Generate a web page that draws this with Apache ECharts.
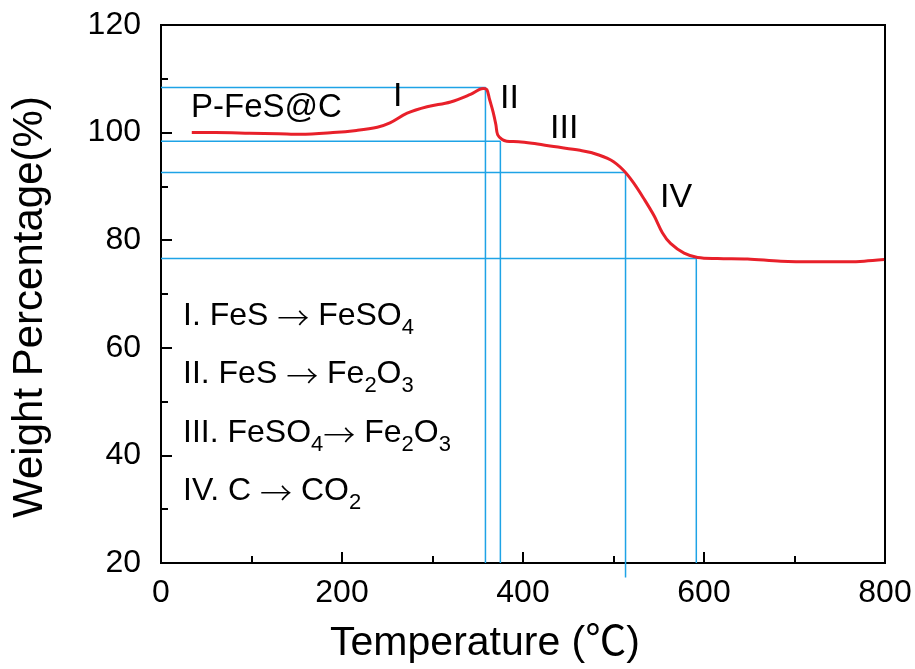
<!DOCTYPE html>
<html>
<head>
<meta charset="utf-8">
<script src="https://cdn.jsdelivr.net/npm/echarts@6/dist/echarts.min.js"></script>
<style>
html,body{margin:0;padding:0;background:#fff;}
#chart{width:915px;height:669px;}
</style>
</head>
<body>
<div id="chart"></div>
<script>
// TGA curve of P-FeS@C
var temps = [34, 60, 98, 130, 154, 190, 216, 239, 253, 272, 294, 320, 342, 356, 360, 363, 367, 370, 372, 377, 382, 395, 410, 434, 463, 475, 497, 511, 522, 534, 545, 554, 563, 578, 593, 615, 648, 685, 722, 760, 777, 799];
var weights = [100.0, 100.0, 99.9, 99.8, 99.7, 100.0, 100.4, 101.0, 101.8, 103.6, 104.8, 105.7, 107.1, 108.2, 108.0, 106.2, 103.8, 101.5, 99.6, 98.7, 98.4, 98.3, 98.0, 97.4, 96.7, 96.3, 94.9, 93.0, 90.7, 87.6, 84.5, 81.4, 79.4, 77.6, 76.8, 76.6, 76.5, 76.1, 76.0, 76.0, 76.1, 76.4];

// guide lines (stage boundaries)
var guideTemps = [358.5, 375, 513.3, 591.5];
var guideWeights = [108.4, 98.4, 92.6, 76.6];
var guideBottoms = [20, 20, 17.3, 20];

// tick settings
var xTicks = {min: 0, max: 800, interval: 200};
var yTicks = {min: 20, max: 120, interval: 20};

var stageLabels = ['I', 'II', 'III', 'IV'];
var sampleName = 'P-FeS@C';
var xTitle = 'Temperature (\u2103)';
var yTitle = 'Weight Percentage(%)';

var FONT = "'Liberation Sans', Arial, 'Noto Sans CJK SC', sans-serif";
var ARROW_FONT = "'Noto Sans CJK SC', 'DejaVu Sans', sans-serif";

var chart = echarts.init(document.getElementById('chart'), null, {renderer: 'canvas'});

var guideSeries = guideTemps.map(function (t, i) {
  return {
    type: 'line',
    data: [[0, guideWeights[i]], [t, guideWeights[i]], [t, guideBottoms[i]]],
    symbol: 'none',
    clip: false,
    silent: true,
    z: 1,
    lineStyle: {color: '#1ea3e6', width: 1.5},
    animation: false
  };
});

var rich = {
  m: {fontSize: 32, fontFamily: FONT, color: '#000', verticalAlign: 'bottom', padding: [0, 0, 7, 0]},
  a: {fontSize: 32, fontFamily: ARROW_FONT, fontWeight: 300, color: '#000', verticalAlign: 'bottom', padding: [0, 0, 5, 0]},
  s: {fontSize: 22, fontFamily: FONT, color: '#000', verticalAlign: 'bottom'}
};

function legendText(y, str) {
  return {
    type: 'text', left: 183, top: y, z: 10,
    style: {text: str, rich: rich, fill: '#000'}
  };
}

function plainText(x, y, str, size) {
  return {
    type: 'text', left: x, top: y, z: 10,
    style: {text: str, font: size + 'px ' + FONT, fill: '#000'}
  };
}

var option = {
  animation: false,
  backgroundColor: '#fff',
  grid: {left: 161, top: 25, width: 724, height: 538, show: true, borderColor: '#000', borderWidth: 2, backgroundColor: 'transparent'},
  xAxis: {
    type: 'value', min: xTicks.min, max: xTicks.max, interval: xTicks.interval,
    name: xTitle, nameLocation: 'middle', nameGap: 60,
    nameTextStyle: {fontSize: 41, fontFamily: FONT, color: '#000', padding: [0, 76, 0, 0]},
    axisLine: {show: true, onZero: false, lineStyle: {color: '#000', width: 2}},
    axisTick: {show: true, inside: true, length: 11, lineStyle: {color: '#000', width: 2}},
    minorTick: {show: true, splitNumber: 2, length: 7, lineStyle: {color: '#000', width: 2}},
    axisLabel: {fontSize: 32, fontFamily: FONT, color: '#000', margin: 14},
    splitLine: {show: false}
  },
  yAxis: {
    type: 'value', min: yTicks.min, max: yTicks.max, interval: yTicks.interval,
    name: yTitle, nameLocation: 'middle', nameGap: 110, nameRotate: 90,
    nameTextStyle: {fontSize: 42, fontFamily: FONT, color: '#000', padding: [0, 26, 0, 0]},
    axisLine: {show: true, onZero: false, lineStyle: {color: '#000', width: 2}},
    axisTick: {show: true, inside: true, length: 11, lineStyle: {color: '#000', width: 2}},
    minorTick: {show: true, splitNumber: 2, length: 7, lineStyle: {color: '#000', width: 2}},
    axisLabel: {fontSize: 32, fontFamily: FONT, color: '#000', margin: 20},
    splitLine: {show: false}
  },
  series: guideSeries.concat([{
    type: 'line',
    name: sampleName,
    data: temps.map(function (t, i) { return [t, weights[i]]; }),
    symbol: 'none',
    smooth: 0.35,
    z: 5,
    lineStyle: {color: '#e8202a', width: 3}
  }]),
  graphic: [
    plainText(191, 91, sampleName, 33),
    plainText(393, 80, stageLabels[0], 34),
    plainText(500, 82, stageLabels[1], 34),
    plainText(550, 112, stageLabels[2], 34),
    plainText(660, 181, stageLabels[3], 34),
    legendText(300, '{m|I. FeS }{a|\u2192}{m| FeSO}{s|4}'),
    legendText(358, '{m|II. FeS }{a|\u2192}{m| Fe}{s|2}{m|O}{s|3}'),
    legendText(417, '{m|III. FeSO}{s|4}{a|\u2192}{m| Fe}{s|2}{m|O}{s|3}'),
    legendText(475, '{m|IV. C }{a|\u2192}{m| CO}{s|2}')
  ]
};
chart.setOption(option);
</script>
</body>
</html>
